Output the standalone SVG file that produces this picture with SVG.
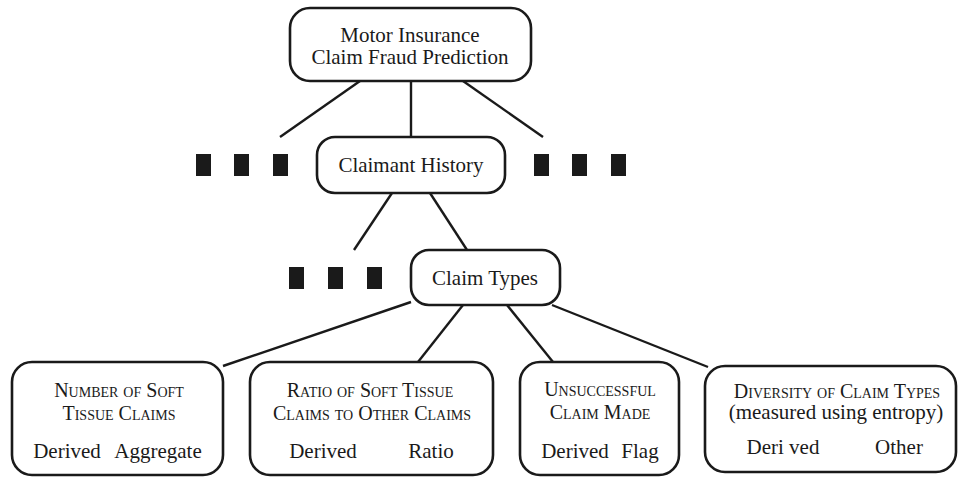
<svg xmlns="http://www.w3.org/2000/svg" width="958" height="477" viewBox="0 0 958 477">
<style>
.box{fill:#fff;stroke:#1a1a1a;stroke-width:2.6}
.t{font-family:"Liberation Serif","Times New Roman",serif;font-size:21px;fill:#1a1a1a;text-anchor:middle}
.sc{font-family:"Liberation Serif","Times New Roman",serif;font-size:20px;fill:#1a1a1a;text-anchor:middle;font-variant:small-caps}
.c line{stroke:#1a1a1a;stroke-width:2.4}
.dots rect{fill:#1a1a1a}
</style>
<g class="c" id="connectors">
<line x1="360" y1="81" x2="280" y2="137"/>
<line x1="411" y1="81" x2="411" y2="137"/>
<line x1="463" y1="81" x2="543" y2="137"/>
<line x1="392" y1="193" x2="354" y2="250"/>
<line x1="430" y1="193" x2="467" y2="250"/>
<line x1="411" y1="302" x2="223" y2="366"/>
<line x1="463" y1="305" x2="418" y2="362"/>
<line x1="507" y1="305" x2="553" y2="362"/>
<line x1="552" y1="305" x2="708" y2="367"/>
</g>
<g class="dots" id="ellipsis-left">
<rect x="196" y="154" width="15" height="22"/>
<rect x="234" y="154" width="15" height="22"/>
<rect x="273" y="154" width="15" height="22"/>
</g>
<g class="dots" id="ellipsis-right">
<rect x="534" y="154" width="15" height="22"/>
<rect x="572" y="154" width="15" height="22"/>
<rect x="611" y="154" width="15" height="22"/>
</g>
<g class="dots" id="ellipsis-mid">
<rect x="289" y="267" width="15" height="22"/>
<rect x="328" y="267" width="15" height="22"/>
<rect x="367" y="267" width="15" height="22"/>
</g>
<g id="root">
<rect class="box" x="290" y="8" width="241" height="73" rx="20"/>
<text class="t" x="410" y="42">Motor Insurance</text>
<text class="t" x="410" y="64">Claim Fraud Prediction</text>
</g>
<g id="claimant-history">
<rect class="box" x="317" y="137" width="188" height="56" rx="18"/>
<text class="t" x="411" y="172">Claimant History</text>
</g>
<g id="claim-types">
<rect class="box" x="411" y="250" width="149" height="55" rx="18"/>
<text class="t" x="485" y="285">Claim Types</text>
</g>
<g id="number-soft-tissue">
<rect class="box" x="12" y="362" width="211" height="113" rx="20"/>
<text class="sc" x="119" y="397">Number of Soft</text>
<text class="sc" x="119" y="420">Tissue Claims</text>
<text class="t" x="67" y="458">Derived</text>
<text class="t" x="158" y="458">Aggregate</text>
</g>
<g id="ratio-soft-tissue">
<rect class="box" x="250" y="362" width="243" height="113" rx="20"/>
<text class="sc" x="370" y="397">Ratio of Soft Tissue</text>
<text class="sc" x="372" y="420">Claims to Other Claims</text>
<text class="t" x="323" y="458">Derived</text>
<text class="t" x="431" y="458">Ratio</text>
</g>
<g id="unsuccessful-claim">
<rect class="box" x="520" y="362" width="159" height="113" rx="20"/>
<text class="sc" x="600" y="396">Unsuccessful</text>
<text class="sc" x="600" y="419">Claim Made</text>
<text class="t" x="575" y="458">Derived</text>
<text class="t" x="640" y="458">Flag</text>
</g>
<g id="diversity-claim-types">
<rect class="box" x="705" y="366" width="251" height="106" rx="20"/>
<text class="sc" x="837" y="398">Diversity of Claim Types</text>
<text class="t" x="836" y="419">(measured using entropy)</text>
<text class="t" x="783" y="454">Deri ved</text>
<text class="t" x="899" y="454">Other</text>
</g>
</svg>
